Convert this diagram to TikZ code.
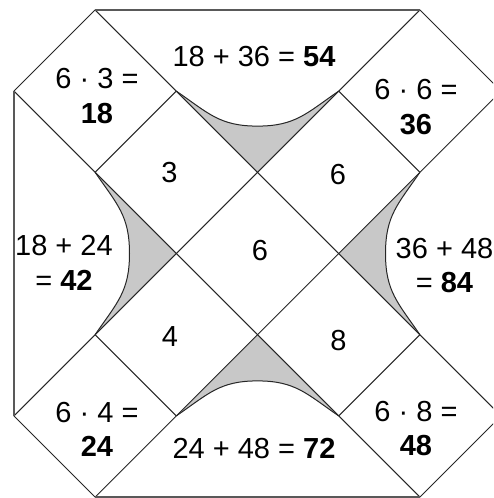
\documentclass[tikz,border=0pt]{standalone}
\usepackage{fontspec}
\setmainfont{Liberation Sans}
\begin{document}
\begin{tikzpicture}[x=1pt,y=-1pt,
  ln/.style={line width=1pt,draw=black!85},
  border/.style={line width=1.6pt,draw=black!65},
  shade/.style={fill={rgb,255:red,200;green,200;blue,200}},
  curve/.style={line width=1pt,draw=black!85},
  txt/.style={font=\fontsize{29}{34.5}\selectfont,inner sep=0pt,align=center,text=black}]
\useasboundingbox (0,0) rectangle (493,498);
\clip (0,0) rectangle (493,498);
\foreach \i in {-3,...,3}{
  \foreach \j in {-3,...,3}{
    \coordinate (a\i b\j) at ({257.5+\i*81.2},{253.5+\j*81.2});
  }
}
\coordinate (mT) at (257.5,126.1);
\coordinate (mB) at (257.5,380.9);
\coordinate (mL) at (129.5,253.5);
\coordinate (mR) at (385.5,253.5);
% gray fills
\fill[shade] (a-1b-2) .. controls +(32,22) and +(-38,0) .. (mT) .. controls +(38,0) and +(-32,22) .. (a1b-2) -- (a0b-1) -- cycle;
\fill[shade] (a-1b2) .. controls +(32,-22) and +(-38,0) .. (mB) .. controls +(38,0) and +(-32,-22) .. (a1b2) -- (a0b1) -- cycle;
\fill[shade] (a-2b-1) .. controls +(22,32) and +(0,-38) .. (mL) .. controls +(0,38) and +(22,-32) .. (a-2b1) -- (a-1b0) -- cycle;
\fill[shade] (a2b-1) .. controls +(-22,32) and +(0,-38) .. (mR) .. controls +(0,38) and +(-22,-32) .. (a2b1) -- (a1b0) -- cycle;
% curves
\draw[curve] (a-1b-2) .. controls +(32,22) and +(-38,0) .. (mT) .. controls +(38,0) and +(-32,22) .. (a1b-2);
\draw[curve] (a-1b2) .. controls +(32,-22) and +(-38,0) .. (mB) .. controls +(38,0) and +(-32,-22) .. (a1b2);
\draw[curve] (a-2b-1) .. controls +(22,32) and +(0,-38) .. (mL) .. controls +(0,38) and +(22,-32) .. (a-2b1);
\draw[curve] (a2b-1) .. controls +(-22,32) and +(0,-38) .. (mR) .. controls +(0,38) and +(-22,-32) .. (a2b1);
% diagonal lines
\draw[ln] (a-3b-2) -- (a2b3);
\draw[ln] (a-2b-3) -- (a3b2);
\draw[ln] (a-3b2) -- (a2b-3);
\draw[ln] (a-2b3) -- (a3b-2);
\draw[ln] (a2b-3) -- (a3b-2);
\draw[ln] (a1b-2) -- (a2b-1);
\draw[ln] (a-2b1) -- (a-1b2);
\draw[ln] (a-3b2) -- (a-2b3);
\draw[ln] (a-2b-3) -- (a-3b-2);
\draw[ln] (a-1b-2) -- (a-2b-1);
\draw[ln] (a2b1) -- (a1b2);
\draw[ln] (a3b2) -- (a2b3);
% border
\draw[border] (a-2b-3) -- (a2b-3);
\draw[border] (a-3b-2) -- (a-3b2);
\draw[border] (a-2b3) -- (a2b3);
\draw[border] (a3b-2) -- (a3b2);
% texts
\node[txt] (t54) at (254,57) {18 + 36 = \textbf{54}};
\node[txt] (b72) at (254,448.5) {24 + 48 = \textbf{72}};
\node[txt] (c18) at (97,96) {6 · 3 =\\\textbf{18}};
\node[txt] (c36) at (416,107) {6 · 6 =\\\textbf{36}};
\node[txt] (c24) at (97,429.5) {6 · 4 =\\\textbf{24}};
\node[txt] (c48) at (416,428.5) {6 · 8 =\\\textbf{48}};
\node[txt] (s42) at (64,263) {18 + 24\\= \textbf{42}};
\node[txt] (s84) at (444.5,265.5) {36 + 48\\= \textbf{84}};
\node[txt] (n3) at (169.5,172.5) {3};
\node[txt] (n6a) at (338,175) {6};
\node[txt] (n6) at (260,251) {6};
\node[txt] (n4) at (170,337) {4};
\node[txt] (n8) at (338.5,341) {8};
\end{tikzpicture}
\end{document}
